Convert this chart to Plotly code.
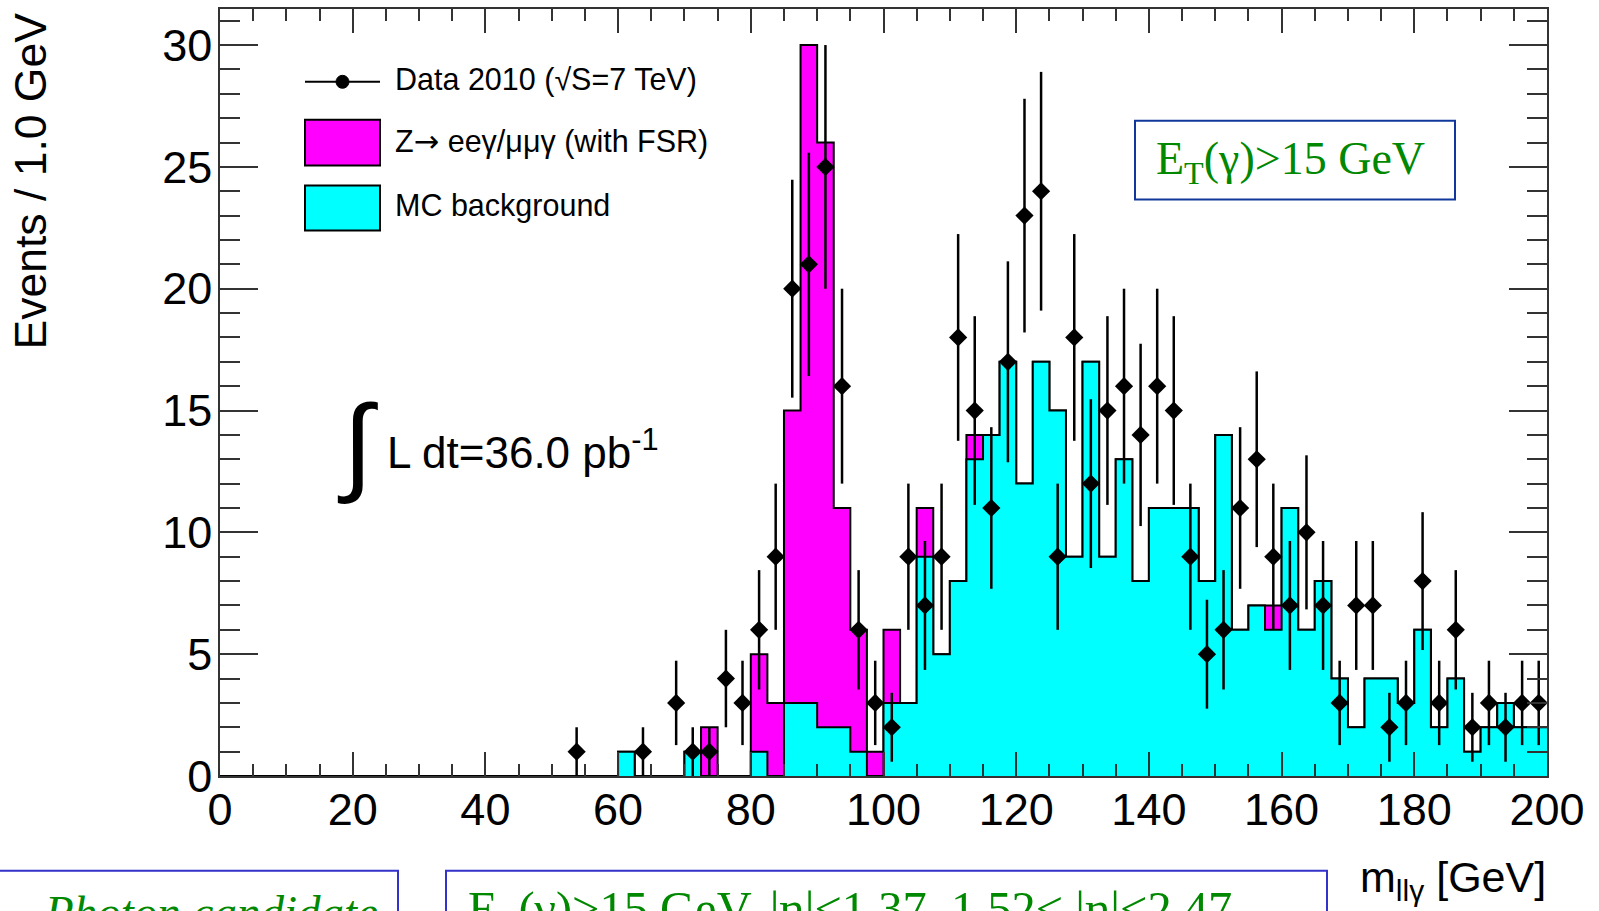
import numpy as np
import plotly.graph_objects as go

# ---- data (2.5 GeV bins from 0 to 200) ----
bin_edges = np.arange(0.0, 200.0 + 1e-9, 2.5)
mc_background = [0]*24 + [1, 0, 0, 0, 1, 0, 0, 0, 1, 0, 3, 3, 2, 2, 1, 0,
                          3, 3, 9, 5, 8, 13, 14, 17, 12, 17, 15, 9, 17, 9, 13, 8,
                          11, 11, 11, 8, 14, 6, 7, 6, 11, 6, 8, 4, 2, 4, 4, 3,
                          6, 2, 4, 1, 2, 3, 2, 2]
z_signal = [0]*29 + [2, 0, 0, 4, 3, 12, 27, 24, 9, 5, 1,
                     3, 0, 2, 0, 0, 1, 0, 0, 0, 0, 0, 0, 0, 0, 0, 0,
                     0, 0, 0, 0, 0, 0, 0, 1, 0, 0, 0, 0, 0, 0, 0, 0,
                     0, 0, 0, 0, 0, 0, 0, 0]
data_counts = [0]*21 + [1, 0, 0, 0, 1, 0, 3, 1, 1, 4, 3, 6, 9, 20, 21, 25, 16, 6, 3,
                        2, 9, 7, 9, 18, 15, 11, 17, 23, 24, 9, 18, 12, 15, 16, 14,
                        16, 15, 9, 5, 6, 11, 13, 9, 7, 10, 7, 3, 7, 7, 2, 3,
                        8, 3, 6, 2, 3, 2, 3, 3]
x_ticks = [0, 20, 40, 60, 80, 100, 120, 140, 160, 180, 200]
y_ticks = [0, 5, 10, 15, 20, 25, 30]

MAGENTA = "#FF00FF"
CYAN = "#00FFFF"
GREEN = "#008800"
BLUE = "#10389c"
FONT = "Liberation Sans"
SERIF = "Liberation Serif"

bg = np.array(mc_background, dtype=float)
total = bg + np.array(z_signal, dtype=float)
data = np.array(data_counts, dtype=float)
centers = 0.5 * (bin_edges[:-1] + bin_edges[1:])

fig = go.Figure()
fig.add_trace(go.Scatter(x=bin_edges, y=np.append(total, total[-1]), mode="lines",
                         line=dict(shape="hv", color="black", width=2),
                         fill="tozeroy", fillcolor=MAGENTA, hoverinfo="skip",
                         name="Z→ eeγ/μμγ (with FSR)"))
fig.add_trace(go.Scatter(x=bin_edges, y=np.append(bg, bg[-1]), mode="lines",
                         line=dict(shape="hv", color="black", width=2),
                         fill="tozeroy", fillcolor=CYAN, hoverinfo="skip",
                         name="MC background"))
m = data > 0
fig.add_trace(go.Scatter(x=centers[m], y=data[m], mode="markers",
                         marker=dict(symbol="diamond", size=14, color="black"),
                         error_y=dict(type="data", array=np.sqrt(data[m]), width=0,
                                      thickness=2.5, color="black"),
                         name="Data 2010 (√S=7 TeV)"))

# pixel -> paper helpers (plot area: x 220..1547, y 7..776)
L, R, T, B = 220, 1547, 7, 776
def xp(px):
    return (px - L) / (R - L)
def yp(py):
    return (B - py) / (B - T)

shapes = []
ann = []
# legend
shapes.append(dict(type="line", xref="paper", yref="paper", x0=xp(305), x1=xp(380),
                   y0=yp(80), y1=yp(80), line=dict(color="black", width=2)))
shapes.append(dict(type="circle", xref="paper", yref="paper", x0=xp(336), x1=xp(349),
                   y0=yp(86.5), y1=yp(73.5), fillcolor="black", line=dict(color="black", width=1)))
shapes.append(dict(type="rect", xref="paper", yref="paper", x0=xp(305), x1=xp(380),
                   y0=yp(164), y1=yp(118), fillcolor=MAGENTA, line=dict(color="black", width=2)))
shapes.append(dict(type="rect", xref="paper", yref="paper", x0=xp(305), x1=xp(380),
                   y0=yp(229), y1=yp(184), fillcolor=CYAN, line=dict(color="black", width=2)))
for txt, cy in [("Data 2010 (√S=7 TeV)", 78),
                ("Z<span style='font-family:DejaVu Sans'>→</span> eeγ/μμγ (with FSR)", 140),
                ("MC background", 204)]:
    ann.append(dict(text=txt, xref="paper", yref="paper", x=xp(393), y=yp(cy), xanchor="left",
                    yanchor="middle", showarrow=False, font=dict(family=FONT, size=30.5, color="black")))
# ET box
shapes.append(dict(type="rect", xref="paper", yref="paper", x0=xp(1135), x1=xp(1455),
                   y0=yp(198), y1=yp(119), line=dict(color=BLUE, width=2), fillcolor="white"))
ann.append(dict(text="E<sub>T</sub>(γ)>15 GeV", xref="paper", yref="paper", x=xp(1290), y=yp(160),
                xanchor="center", yanchor="middle", showarrow=False,
                font=dict(family=SERIF, size=46, color=GREEN)))
# luminosity
ann.append(dict(text="∫", xref="paper", yref="paper", x=xp(357), y=yp(443), xanchor="center",
                yanchor="middle", showarrow=False, font=dict(family=FONT, size=108, color="black")))
ann.append(dict(text="L dt=36.0 pb<sup>-1</sup>", xref="paper", yref="paper", x=xp(385), y=yp(449),
                xanchor="left", yanchor="middle", showarrow=False,
                font=dict(family=FONT, size=44, color="black")))
# axis titles
ann.append(dict(text="Events / 1.0 GeV", xref="paper", yref="paper", x=xp(30), y=yp(9),
                xanchor="center", yanchor="top", textangle=-90, showarrow=False,
                font=dict(family=FONT, size=44.5, color="black")))
ann.append(dict(text="m<sub>llγ</sub> [GeV]", xref="paper", yref="paper", x=xp(1548), y=yp(880),
                xanchor="right", yanchor="middle", showarrow=False,
                font=dict(family=FONT, size=43, color="black")))
# bottom (cropped) boxes
shapes.append(dict(type="rect", xref="paper", yref="paper", x0=xp(-2), x1=xp(398),
                   y0=yp(960), y1=yp(871), line=dict(color="#3333cc", width=2)))
shapes.append(dict(type="rect", xref="paper", yref="paper", x0=xp(446), x1=xp(1327),
                   y0=yp(960), y1=yp(871), line=dict(color="#3333cc", width=2)))
ann.append(dict(text="<i>Photon candidate</i>", xref="paper", yref="paper", x=xp(42), y=yp(912),
                xanchor="left", yanchor="middle", showarrow=False,
                font=dict(family=SERIF, size=47, color=GREEN)))
ann.append(dict(text="E<sub>T</sub>(γ)>15 GeV, |η|<1.37, 1.52< |η|<2.47", xref="paper", yref="paper",
                x=xp(466), y=yp(912), xanchor="left", yanchor="middle", showarrow=False,
                font=dict(family=SERIF, size=48.5, color=GREEN)))

fig.update_layout(
    width=1599, height=911,
    margin=dict(l=L, r=1599 - R, t=T, b=911 - B, pad=0),
    plot_bgcolor="white", paper_bgcolor="white",
    showlegend=False,
    shapes=shapes, annotations=ann,
    font=dict(family=FONT, color="black"),
)
fig.update_xaxes(range=[0, 200], tickvals=x_ticks, ticktext=[str(v) for v in x_ticks],
                 ticks="inside", ticklen=24, tickwidth=1.5, tickcolor="#333",
                 minor=dict(dtick=5, ticks="inside", ticklen=12, tickwidth=1.5, tickcolor="#333"),
                 showline=True, linecolor="#333", linewidth=1.5, mirror="ticks",
                 showgrid=False, zeroline=False, tickfont=dict(size=45, family=FONT),
                 ticklabelstandoff=-7)
fig.update_yaxes(range=[0, 31.48], tickvals=y_ticks, ticktext=[str(v) for v in y_ticks],
                 ticks="inside", ticklen=38, tickwidth=1.5, tickcolor="#333",
                 minor=dict(dtick=1, ticks="inside", ticklen=20, tickwidth=1.5, tickcolor="#333"),
                 showline=True, linecolor="#333", linewidth=1.5, mirror="ticks",
                 showgrid=False, zeroline=False, tickfont=dict(size=45, family=FONT),
                 ticklabelstandoff=-3)

fig.write_html("out.html", config={"displayModeBar": False},
               post_script="document.body.style.margin='0';document.body.style.overflow='hidden';")
